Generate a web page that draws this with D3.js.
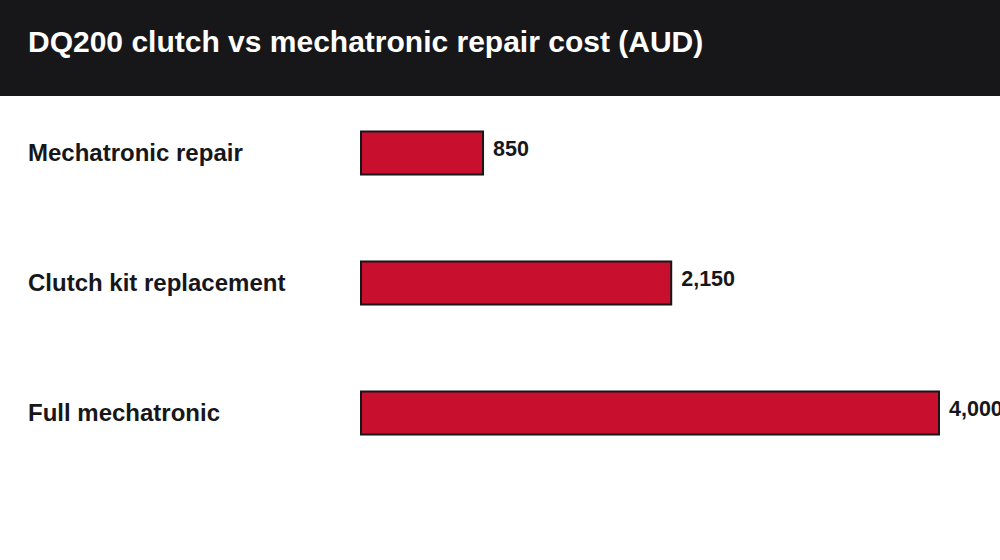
<!DOCTYPE html>
<html>
<head>
<meta charset="utf-8">
<script src="https://cdn.jsdelivr.net/npm/d3@7"></script>
<style>
  body { margin: 0; background: #fff; }
  svg { display: block; }
</style>
</head>
<body>
<svg id="chart" width="1000" height="560"></svg>
<script>
// data
const categories = ["Mechatronic repair", "Clutch kit replacement", "Full mechatronic"];
const costs = [850, 2150, 4000];
const title = "DQ200 clutch vs mechatronic repair cost (AUD)";

const dark = "#17171a";
const red = "#c8102e";

const svg = d3.select("svg#chart");

// header band
svg.append("rect")
    .attr("x", 0).attr("y", 0)
    .attr("width", 1000).attr("height", 96)
    .attr("fill", dark);

svg.append("text")
    .attr("x", 28)
    .attr("y", 52)
    .attr("font-family", "Liberation Sans, Arial, sans-serif")
    .attr("font-weight", "bold")
    .attr("font-size", "30px")
    .attr("fill", "#ffffff")
    .text(title);

let x = d3.scaleLinear().domain([0, 4000]).range([361, 940]);
let y = d3.scaleBand()
    .domain(categories)
    .range([88, 478])
    .paddingInner(0.669)
    .paddingOuter(0.3345);

let rows = categories.map(function(c, i) { return {cat: c, value: costs[i]}; });

// category labels
svg.append("g").selectAll("text").data(rows)
  .enter().append("text")
    .attr("x", 28)
    .attr("y", function(d) { return y(d.cat) + y.bandwidth()/2 + 7.5; })
    .attr("font-family", "Liberation Sans, Arial, sans-serif")
    .attr("font-weight", "bold")
    .attr("font-size", "24px")
    .attr("fill", dark)
    .text(function(d) { return d.cat; });

// bars (inset half the stroke so the outer edge lands on the value)
svg.append("g").selectAll("rect").data(rows)
  .enter().append("rect")
    .attr("x", x(0))
    .attr("y", function(d) { return y(d.cat); })
    .attr("width", function(d) { return x(d.value) - x(0) - 1; })
    .attr("height", y.bandwidth())
    .attr("fill", red)
    .attr("stroke", dark)
    .attr("stroke-width", 2);

// value labels
svg.append("g").selectAll("text").data(rows)
  .enter().append("text")
    .attr("x", function(d) { return x(d.value) + 9; })
    .attr("y", function(d) { return y(d.cat) + 25; })
    .attr("font-family", "Liberation Sans, Arial, sans-serif")
    .attr("font-weight", "bold")
    .attr("font-size", "21.5px")
    .attr("fill", dark)
    .text(function(d) { return d3.format(",")(d.value); });
</script>
</body>
</html>
